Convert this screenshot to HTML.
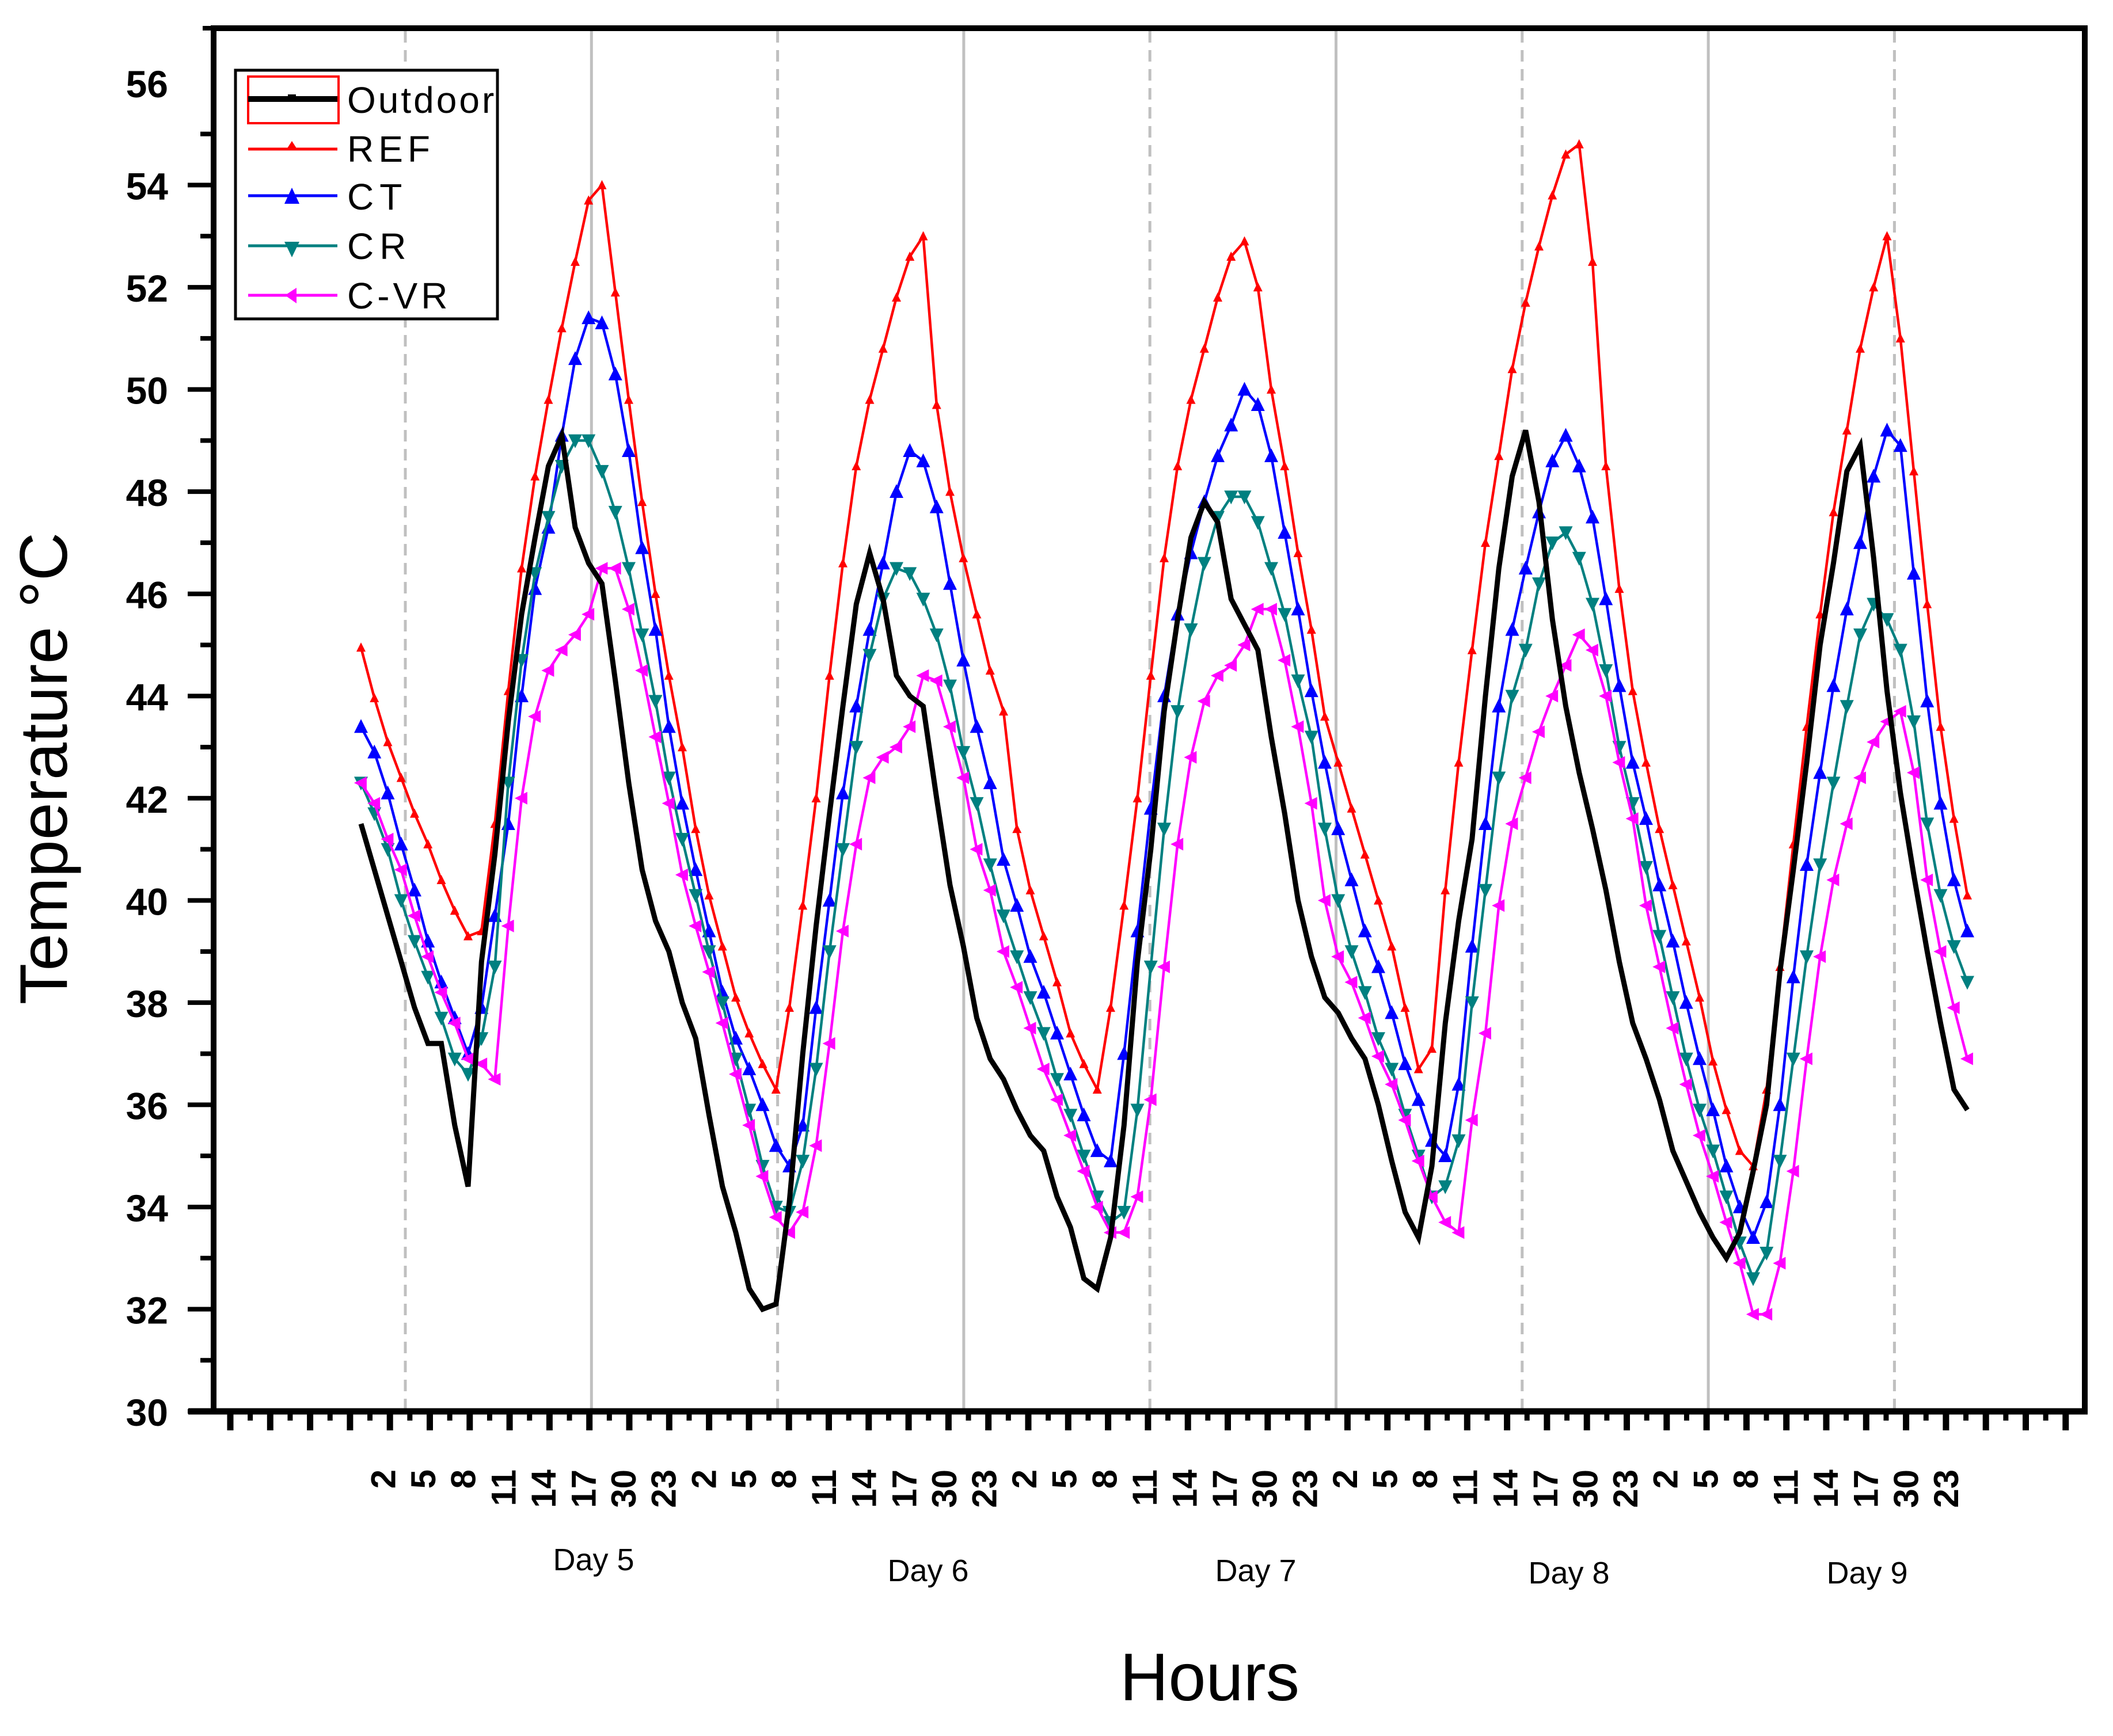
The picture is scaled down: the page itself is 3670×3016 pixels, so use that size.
<!DOCTYPE html>
<html><head><meta charset="utf-8"><style>
html,body{margin:0;padding:0;background:#fff;}
svg{display:block;}
text{font-family:"Liberation Sans",Arial,sans-serif;}
</style></head>
<body>
<svg id="chart" width="3670" height="3016" viewBox="0 0 3670 3016" xmlns="http://www.w3.org/2000/svg">
<rect x="0" y="0" width="3670" height="3016" fill="#fff"/>
<g id="grid"></g>
<g id="series"></g>
<g id="axes"></g>
<g id="legend">
  <rect x="409" y="122" width="455" height="432" fill="#fff" stroke="#000" stroke-width="5"/>
  <rect x="431" y="133" width="157" height="81" fill="none" stroke="#ff0000" stroke-width="4"/>
  <g><line x1="431" y1="172" x2="586" y2="172" stroke="#000" stroke-width="10"/><rect x="500" y="164" width="14" height="10" fill="#000"/><text x="603" y="174" font-size="64" letter-spacing="4" dominant-baseline="central">Outdoor</text></g>
  <g><line x1="431" y1="259" x2="586" y2="259" stroke="#ff0000" stroke-width="5"/><polygon points="498,259 516,259 507,245" fill="#ff0000"/><text x="603" y="259" font-size="64" letter-spacing="8" dominant-baseline="central">REF</text></g>
  <g><line x1="431" y1="340" x2="586" y2="340" stroke="#0000ff" stroke-width="5"/><polygon points="494,354 520,354 507,326" fill="#0000ff"/><text x="603" y="342" font-size="64" letter-spacing="10" dominant-baseline="central">CT</text></g>
  <g><line x1="431" y1="427" x2="586" y2="427" stroke="#008080" stroke-width="5"/><polygon points="494,420 520,420 507,447" fill="#008080"/><text x="603" y="428" font-size="64" letter-spacing="10" dominant-baseline="central">CR</text></g>
  <g><line x1="431" y1="513" x2="586" y2="513" stroke="#ff00ff" stroke-width="5"/><polygon points="495,513 515,500 515,527" fill="#ff00ff"/><text x="603" y="514" font-size="64" letter-spacing="6" dominant-baseline="central">C-VR</text></g>
</g>
<text x="2101" y="2954" font-size="117" text-anchor="middle">Hours</text>
<text x="0" y="0" font-size="117" text-anchor="middle" transform="translate(116,1335) rotate(-90)">Temperature °C</text>
</svg>
<script>
// ---- data (hourly, 121 points) ----
const outdoor = [41.5,40.6,39.7,38.8,37.9,37.2,37.2,35.6,34.4,38.8,40.9,43.5,45.6,47.1,48.5,49.1,47.3,46.6,46.2,44.3,42.3,40.6,39.6,39.0,38.0,37.3,
35.8,34.4,33.5,32.4,32.0,32.1,34.1,37.0,39.5,41.7,43.8,45.8,46.8,45.9,44.4,44.0,43.8,42.0,40.3,39.1,37.7,36.9,36.5,35.9,35.4,35.1,
34.2,33.6,32.6,32.4,33.4,35.6,38.8,41.0,43.7,45.5,47.1,47.8,47.4,45.9,45.4,44.9,43.2,41.7,40.0,38.9,38.1,37.8,37.3,36.9,36.0,
34.9,33.9,33.4,34.8,37.6,39.6,41.2,44.0,46.5,48.3,49.2,47.8,45.5,43.8,42.5,41.4,40.2,38.8,37.6,36.9,36.1,35.1,34.5,33.9,33.4,
33.0,33.5,34.7,36.0,38.6,40.6,42.7,45.0,46.6,48.4,48.9,46.7,44.1,42.1,40.5,39.0,37.6,36.3,35.9];
const ref = [44.95,43.96,43.1,42.4,41.7,41.1,40.4,39.8,39.3,39.4,41.5,44.1,46.5,48.3,49.8,51.2,52.5,53.7,54.0,51.9,49.8,47.8,46.0,44.4,43.0,41.4,
40.1,39.1,38.1,37.4,36.8,36.3,37.9,39.9,42.0,44.4,46.6,48.5,49.8,50.8,51.8,52.6,53.0,49.7,48.0,46.7,45.6,44.5,43.7,41.4,40.2,39.3,
38.4,37.4,36.8,36.3,37.9,39.9,42.0,44.4,46.7,48.5,49.8,50.8,51.8,52.6,52.9,52.0,50.0,48.5,46.8,45.3,43.6,42.7,41.8,40.9,40.0,
39.1,37.9,36.7,37.1,40.2,42.7,44.9,47.0,48.7,50.4,51.7,52.8,53.8,54.6,54.8,52.5,48.5,46.1,44.1,42.7,41.4,40.3,39.2,38.1,36.85,
35.9,35.1,34.8,36.3,38.7,41.1,43.4,45.6,47.6,49.2,50.8,52.0,53.0,51.0,48.4,45.8,43.4,41.6,40.1];
const ct = [43.4,42.9,42.1,41.1,40.2,39.2,38.4,37.7,37.0,37.9,39.7,41.5,44.0,46.1,47.3,49.1,50.6,51.4,51.3,50.3,48.8,46.9,45.3,43.4,41.9,40.6,
39.4,38.2,37.3,36.7,36.0,35.2,34.8,35.6,37.9,40.0,42.1,43.8,45.3,46.6,48.0,48.8,48.6,47.7,46.2,44.7,43.4,42.3,40.8,39.9,38.9,38.2,
37.4,36.6,35.8,35.1,34.9,37.0,39.4,41.8,44.0,45.6,46.8,47.8,48.7,49.3,50.0,49.7,48.7,47.2,45.7,44.1,42.7,41.4,40.4,39.4,38.7,
37.8,36.8,36.1,35.3,35.0,36.4,39.1,41.5,43.8,45.3,46.5,47.6,48.6,49.1,48.5,47.5,45.9,44.2,42.7,41.6,40.3,39.2,38.0,36.9,35.9,
34.8,34.0,33.4,34.1,36.0,38.5,40.7,42.5,44.2,45.7,47.0,48.3,49.2,48.9,46.4,43.9,41.9,40.4,39.4];
const cr = [42.3,41.7,41.0,40.0,39.2,38.5,37.7,36.9,36.6,37.3,38.7,42.3,44.7,46.4,47.5,48.5,49.0,49.0,48.4,47.6,46.5,45.2,43.9,42.4,41.2,40.1,
39.0,38.0,36.9,35.9,34.8,34.0,33.9,34.9,36.7,39.0,41.0,43.0,44.8,45.9,46.5,46.4,45.9,45.2,44.2,42.9,41.9,40.7,39.7,38.9,38.1,37.4,
36.5,35.8,35.0,34.2,33.7,33.9,35.9,38.7,41.4,43.7,45.3,46.6,47.5,47.9,47.9,47.4,46.5,45.6,44.3,43.2,41.4,40.0,39.0,38.2,37.3,
36.7,35.8,35.0,34.2,34.4,35.3,38.0,40.2,42.4,44.0,44.9,46.2,47.0,47.2,46.7,45.8,44.5,43.0,41.9,40.65,39.3,38.1,36.9,35.9,35.1,
34.2,33.3,32.6,33.1,34.9,36.9,38.9,40.7,42.3,43.8,45.2,45.8,45.5,44.9,43.5,41.5,40.1,39.1,38.4];
const cvr = [42.3,41.9,41.2,40.6,39.7,38.9,38.2,37.6,36.9,36.8,36.5,39.5,42.0,43.6,44.5,44.9,45.2,45.6,46.5,46.5,45.7,44.5,43.2,41.9,40.5,39.5,
38.6,37.6,36.6,35.6,34.6,33.8,33.5,33.9,35.2,37.2,39.4,41.1,42.4,42.8,43.0,43.4,44.4,44.3,43.4,42.4,41.0,40.2,39.0,38.3,37.5,36.7,
36.1,35.4,34.7,34.0,33.5,33.5,34.2,36.1,38.7,41.1,42.8,43.9,44.4,44.6,45.0,45.7,45.7,44.7,43.4,41.9,40.0,38.9,38.4,37.7,36.95,
36.4,35.7,34.9,34.2,33.7,33.5,35.7,37.4,39.9,41.5,42.4,43.3,44.0,44.6,45.2,44.9,44.0,42.7,41.6,39.9,38.7,37.5,36.4,35.4,34.6,
33.7,32.9,31.9,31.9,32.9,34.7,36.9,38.9,40.4,41.5,42.4,43.1,43.5,43.7,42.5,40.4,39.0,37.9,36.9];
const yTickLabels = [30,32,34,36,38,40,42,44,46,48,50,52,54,56];
const hourLabels = ["2","5","8","11","14","17","30","23"];
const dayLabels = ["Day 5","Day 6","Day 7","Day 8","Day 9"];

const NS = "http://www.w3.org/2000/svg";
const xS = i => 627 + i * 23.25;
const yS = v => 144 + (56 - v) * 88.77;
function mk(tag, attrs, parent) {
  const e = document.createElementNS(NS, tag);
  for (const k in attrs) e.setAttribute(k, attrs[k]);
  parent.appendChild(e);
  return e;
}
const grid = document.getElementById('grid');
const axes = document.getElementById('axes');
const series = document.getElementById('series');
const L = 371, R = 3621, T = 49, B = 2452;

for (let k = 0; k <= 8; k++) {
  const x = 704 + k * 323.3;
  const g = mk('line', {x1: x, y1: T + 5, x2: x, y2: B - 5, stroke: '#c0c0c0', 'stroke-width': 5}, grid);
  if (k % 2 === 0) g.setAttribute('stroke-dasharray', '20 13');
  
  
}

for (let v = 30; v <= 55; v++) {
  const y = yS(v);
  const major = v % 2 === 0;
  const t = mk('line', {x1: major ? 326 : 348, y1: y, x2: L, y2: y, stroke: '#000', 'stroke-width': 8}, axes);
  
  
}
yTickLabels.forEach(v => {
  const t = mk('text', {x: 292, y: yS(v) + 2, 'font-size': 66, 'font-weight': 'bold', 'text-anchor': 'end', 'dominant-baseline': 'central'}, axes);
  t.textContent = v;
  
  
});

for (let k = 0; k <= 46; k++) {
  const x = 400 + k * 69.3;
  const t = mk('line', {x1: x, y1: B, x2: x, y2: B + 33, stroke: '#000', 'stroke-width': 11}, axes);
  
  
  if (k < 46) {
    const m = mk('line', {x1: x + 34.65, y1: B, x2: x + 34.65, y2: B + 16, stroke: '#000', 'stroke-width': 9}, axes);
    
    
  }
}
for (let k = 0; k < 40; k++) {
  const x = 666 + k * 69.6;
  const t = mk('text', {x: 0, y: 0, 'font-size': 60, 'font-weight': 'bold', 'text-anchor': 'end', 'dominant-baseline': 'central', transform: 'translate(' + x + ',2553) rotate(-90)'}, axes);
  t.textContent = hourLabels[k % 8];
  
  
}
const dayX = [1031, 1612, 2181, 2725, 3243];
const dayY = [2728, 2747, 2747, 2751, 2751];
dayLabels.forEach((d, k) => {
  const t = mk('text', {x: dayX[k], y: dayY[k], 'font-size': 54, 'text-anchor': 'middle'}, axes);
  t.textContent = d;
  
  
});

const frame = mk('path', {d: 'M' + L + ',' + B + ' L' + L + ',' + T + ' L' + R + ',' + T + ' L' + R + ',' + B, fill: 'none', stroke: '#000', 'stroke-width': 10}, axes);


const xAxis = mk('line', {x1: 327, y1: B, x2: R + 5, y2: B, stroke: '#000', 'stroke-width': 11}, axes);


const topExt = mk('line', {x1: 352, y1: T, x2: L, y2: T, stroke: '#000', 'stroke-width': 8}, axes);



function marker(shape, x, y, s, color, g) {
  let pts;
  if (shape === 'up') pts = [[x - s, y + s * 0.9], [x + s, y + s * 0.9], [x, y - s * 1.1]];
  else if (shape === 'down') pts = [[x - s, y - s * 0.9], [x + s, y - s * 0.9], [x, y + s * 1.1]];
  else pts = [[x - s * 1.1, y], [x + s * 0.9, y - s], [x + s * 0.9, y + s]];
  return mk('polygon', {points: pts.map(p => p.join(',')).join(' '), fill: color}, g);
}
const seriesDefs = [
  {name: 'series-ref', data: ref, color: '#ff0000', w: 4.5, shape: 'up', s: 8},
  {name: 'series-ct', data: ct, color: '#0000ff', w: 4.5, shape: 'up', s: 12},
  {name: 'series-cr', data: cr, color: '#008080', w: 4.5, shape: 'down', s: 12},
  {name: 'series-cvr', data: cvr, color: '#ff00ff', w: 4.5, shape: 'left', s: 11},
  {name: 'series-outdoor', data: outdoor, color: '#000000', w: 9, shape: null, s: 0}
];
seriesDefs.forEach(sd => {
  const g = mk('g', {}, series);
  
  
  const d = sd.data.map((v, i) => (i ? 'L' : 'M') + xS(i).toFixed(1) + ',' + yS(v).toFixed(1)).join(' ');
  const p = mk('path', {d: d, fill: 'none', stroke: sd.color, 'stroke-width': sd.w, 'stroke-linejoin': 'miter'}, g);
  
  
  if (sd.shape) {
    sd.data.forEach((v, i) => {
      const m = marker(sd.shape, xS(i), yS(v), sd.s, sd.color, g);
      
      
    });
  }
});
</script>
</body></html>
